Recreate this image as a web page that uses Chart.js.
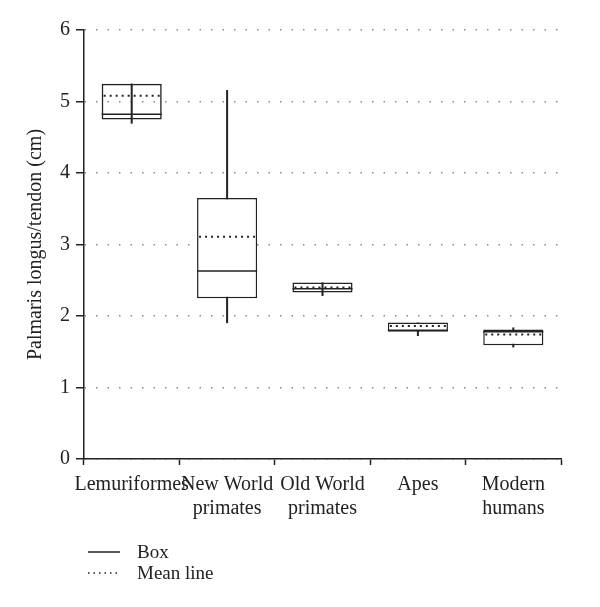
<!DOCTYPE html>
<html>
<head>
<meta charset="utf-8">
<script src="https://cdn.jsdelivr.net/npm/chart.js@4/dist/chart.umd.min.js"></script>
<style>
    html, body { margin: 0; padding: 0; background: #fff; }
    #wrap { width: 600px; height: 607px; }
</style>
</head>
<body>
<div id="wrap"><canvas id="boxChart" width="600" height="607"></canvas></div>
<script>
const categories = [ 'Lemuriformes', [ 'New World', 'primates' ], [ 'Old World', 'primates' ], 'Apes', [ 'Modern', 'humans' ] ]
const whiskerMin = [ 4.69, 1.90, 2.28, 1.72, 1.56 ]
const q1 = [ 4.75, 2.25, 2.33, 1.78, 1.59 ]
const median = [ 4.82, 2.63, 2.38, 1.80, 1.78 ]
const q3 = [ 5.25, 3.65, 2.47, 1.91, 1.81 ]
const whiskerMax = [ 5.25, 5.16, 2.47, 1.91, 1.84 ]
const mean = [ 5.08, 3.11, 2.40, 1.86, 1.74 ]
const yTicks = [ 0, 1, 2, 3, 4, 5, 6 ]

const FONT = '"Liberation Serif", "DejaVu Serif", serif'
const INK = '#222'

// whiskers, medians and mean lines drawn through the chart scales
const boxExtras = {
    id: 'boxExtras',
    beforeDatasetsDraw ( chart ) {
        const { ctx, scales: { y } } = chart
        const meta = chart.getDatasetMeta( 0 )
        ctx.save()
        ctx.strokeStyle = INK
        ctx.lineWidth = 2
        meta.data.forEach( ( bar, i ) => {
            ctx.beginPath()
            ctx.moveTo( bar.x, y.getPixelForValue( whiskerMin[ i ] ) )
            ctx.lineTo( bar.x, y.getPixelForValue( whiskerMax[ i ] ) )
            ctx.stroke()
        } )
        ctx.restore()
    },
    afterDatasetsDraw ( chart ) {
        const { ctx, scales: { y } } = chart
        const meta = chart.getDatasetMeta( 0 )
        ctx.save()
        meta.data.forEach( ( bar, i ) => {
            const left = bar.x - bar.width / 2
            const right = bar.x + bar.width / 2
            ctx.strokeStyle = INK
            ctx.lineWidth = 1.5
            ctx.setLineDash( [] )
            ctx.beginPath()
            ctx.moveTo( left, y.getPixelForValue( median[ i ] ) )
            ctx.lineTo( right, y.getPixelForValue( median[ i ] ) )
            ctx.stroke()

            ctx.lineWidth = 2
            ctx.setLineDash( [ 2, 4 ] )
            ctx.beginPath()
            ctx.moveTo( left + 2, y.getPixelForValue( mean[ i ] ) )
            ctx.lineTo( right, y.getPixelForValue( mean[ i ] ) )
            ctx.stroke()
        } )
        ctx.restore()
    },
    afterDraw ( chart ) {
        const { ctx, chartArea } = chart
        const x0 = chartArea.left + 4
        ctx.save()
        ctx.strokeStyle = INK
        ctx.lineWidth = 1.5
        ctx.beginPath()
        ctx.moveTo( x0, 552 )
        ctx.lineTo( x0 + 32, 552 )
        ctx.stroke()
        ctx.lineWidth = 1.5
        ctx.setLineDash( [ 1.5, 4 ] )
        ctx.beginPath()
        ctx.moveTo( x0, 573 )
        ctx.lineTo( x0 + 32, 573 )
        ctx.stroke()
        ctx.fillStyle = INK
        ctx.font = '19px ' + FONT
        ctx.textBaseline = 'alphabetic'
        ctx.fillText( 'Box', x0 + 49, 558 )
        ctx.fillText( 'Mean line', x0 + 49, 579 )
        ctx.restore()
    }
}

const ctx = document.getElementById( 'boxChart' ).getContext( '2d' )
new Chart( ctx, {
    type: 'bar',
    data: {
        labels: categories,
        datasets: [ {
            label: 'Box',
            data: q1.map( ( v, i ) => [ v, q3[ i ] ] ),
            backgroundColor: [ 'rgba(255,255,255,0)', '#fff', 'rgba(255,255,255,0)', '#fff', '#fff' ],
            borderColor: INK,
            borderWidth: 1.5,
            borderSkipped: false,
            categoryPercentage: 1,
            barPercentage: 0.63
        } ]
    },
    options: {
        responsive: false,
        animation: false,
        layout: { padding: { left: 20, right: 39, top: 30, bottom: 0 } },
        plugins: {
            legend: { display: false },
            tooltip: { enabled: false }
        },
        scales: {
            x: {
                offset: true,
                afterFit: scale => { scale.height = 148 },
                grid: { drawOnChartArea: false, tickLength: 6, tickColor: INK, tickWidth: 1.5 },
                border: { color: INK, width: 1.5 },
                ticks: {
                    color: INK,
                    autoSkip: false,
                    maxRotation: 0,
                    padding: 8,
                    font: { family: FONT, size: 20, lineHeight: 1.2 }
                }
            },
            y: {
                min: 0,
                max: 6,
                afterFit: scale => { scale.width = 64 },
                afterBuildTicks: scale => { scale.ticks = yTicks.map( v => ( { value: v } ) ) },
                grid: { color: '#888', lineWidth: 1.5, tickLength: 8, tickColor: INK, tickWidth: 1.5 },
                border: { color: INK, width: 1.5, dash: [ 1.5, 10 ] },
                ticks: {
                    color: INK,
                    padding: 6,
                    font: { family: FONT, size: 20 }
                },
                title: {
                    display: true,
                    text: 'Palmaris longus/tendon (cm)',
                    color: INK,
                    font: { family: FONT, size: 20 }
                }
            }
        }
    },
    plugins: [ boxExtras ]
} )
</script>
</body>
</html>
